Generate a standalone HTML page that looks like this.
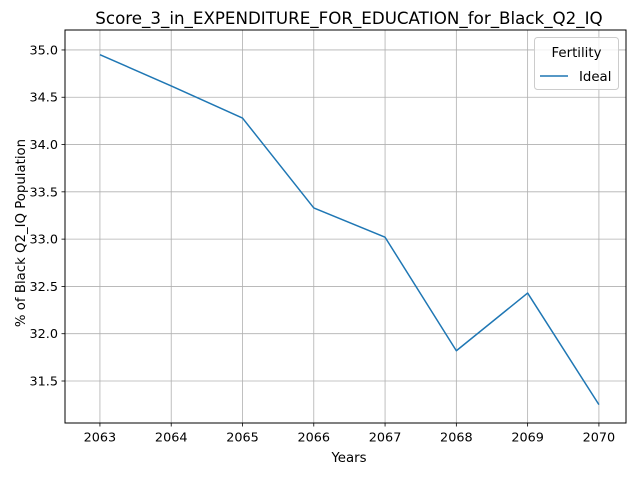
<!DOCTYPE html>
<html><head><meta charset="utf-8">
<style>
body{margin:0;background:#fff;}
svg text{font-family:"DejaVu Sans","Liberation Sans",sans-serif;fill:#000;}
</style></head>
<body>
<svg id="chart" width="640" height="480" xmlns="http://www.w3.org/2000/svg">
<rect width="640" height="480" fill="#fff"/>
<g id="grid"></g>
<g id="series"></g>
<rect x="65" y="30" width="561" height="393" fill="none" stroke="#000" stroke-width="1"/>
<g id="xticks"></g>
<g id="yticks"></g>
<text x="349" y="29" text-anchor="middle" font-size="16.7" dy="-5">Score_3_in_EXPENDITURE_FOR_EDUCATION_for_Black_Q2_IQ</text>
<text x="349" y="462" text-anchor="middle" font-size="13.3">Years</text>
<text transform="translate(25,233) rotate(-90)" text-anchor="middle" font-size="13.3">% of Black Q2_IQ Population</text>
<g>
<rect x="534.5" y="37.5" width="84" height="52" rx="3" fill="#fff" fill-opacity="0.8" stroke="#ccc"/>
<text x="576.5" y="57" text-anchor="middle" font-size="13.3">Fertility</text>
<line x1="540" y1="76" x2="568" y2="76" stroke="#1f77b4" stroke-width="1.5"/>
<text x="579" y="81" font-size="13.3">Ideal</text>
</g>
</svg>
<script>
const years=[2063,2064,2065,2066,2067,2068,2069,2070];
const values=[34.95,34.62,34.28,33.33,33.02,31.82,32.43,31.25];
const yTickValues=[31.5,32.0,32.5,33.0,33.5,34.0,34.5,35.0];
const yTickLabels=["31.5","32.0","32.5","33.0","33.5","34.0","34.5","35.0"];
const L=65,R=626,T=30,B=423;
const xMin=2062.51,xMax=2070.38,yMin=31.056,yMax=35.211;
const sx=v=>L+(v-xMin)/(xMax-xMin)*(R-L);
const sy=v=>B-(v-yMin)/(yMax-yMin)*(B-T);
const NS="http://www.w3.org/2000/svg";
function mk(tag,attrs,parent){const e=document.createElementNS(NS,tag);for(const k in attrs)e.setAttribute(k,attrs[k]);parent.appendChild(e);return e;}
const grid=document.getElementById('grid'),xt=document.getElementById('xticks'),yt=document.getElementById('yticks'),ser=document.getElementById('series');
years.forEach(y=>{
  const x=sx(y);
  const g=mk('line',{x1:x,x2:x,y1:T,y2:B,stroke:'#b0b0b0','stroke-width':0.8},grid);
  
  
  const t=mk('line',{x1:x,x2:x,y1:B,y2:B+3.5,stroke:'#000','stroke-width':0.8},xt);
  
  
  const l=mk('text',{x:x,y:B+18.5,'text-anchor':'middle','font-size':12.8},xt);
  l.textContent=String(y);
  
  
});
yTickValues.forEach((v,i)=>{
  const y=sy(v);
  const g=mk('line',{x1:L,x2:R,y1:y,y2:y,stroke:'#b0b0b0','stroke-width':0.8},grid);
  
  
  const t=mk('line',{x1:L-3.5,x2:L,y1:y,y2:y,stroke:'#000','stroke-width':0.8},yt);
  
  
  const l=mk('text',{x:L-7,y:y+4.5,'text-anchor':'end','font-size':12.8},yt);
  l.textContent=yTickLabels[i];
  
  
});
const pts=years.map((y,i)=>sx(y)+','+sy(values[i])).join(' ');
const pl=mk('polyline',{points:pts,fill:'none',stroke:'#1f77b4','stroke-width':1.5,'stroke-linejoin':'round'},ser);


</script>
</body></html>
